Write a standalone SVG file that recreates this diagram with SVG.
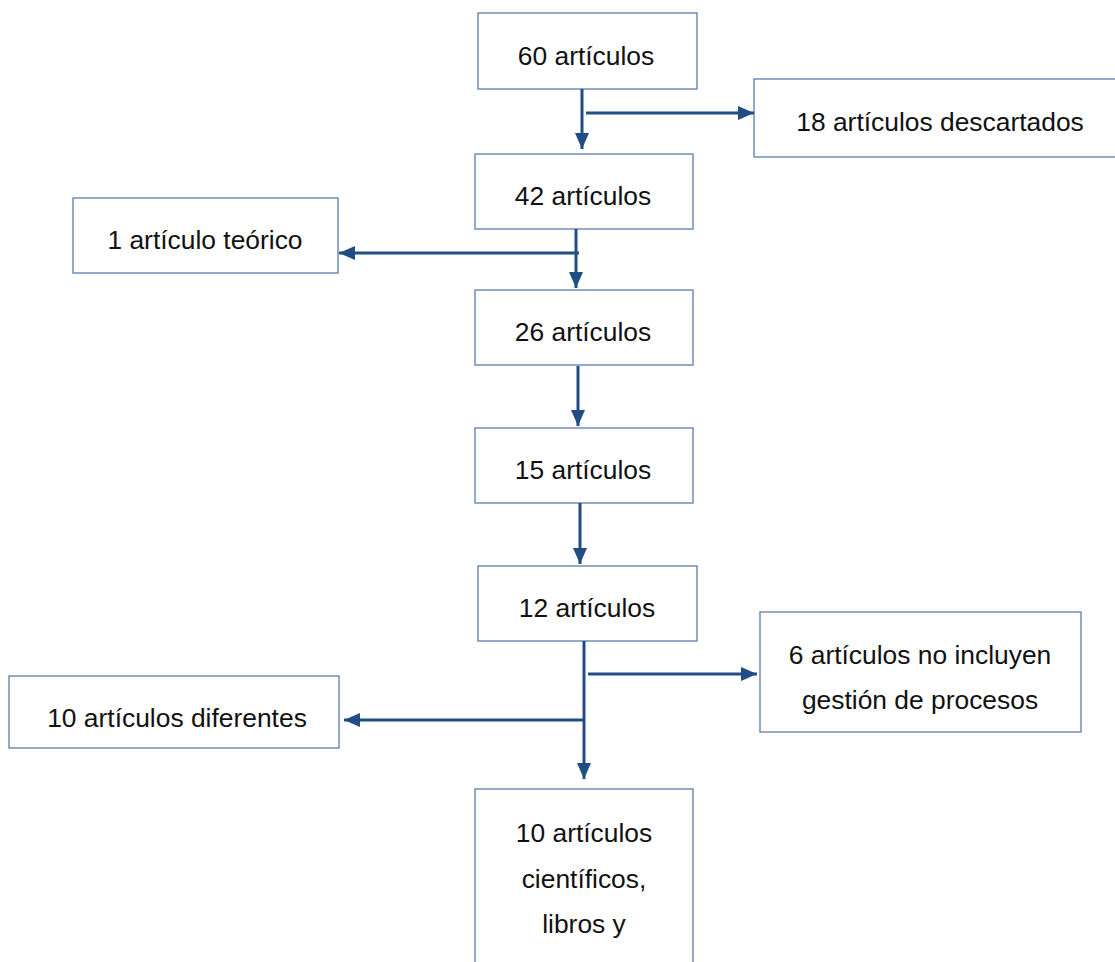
<svg xmlns="http://www.w3.org/2000/svg" width="1115" height="962" viewBox="0 0 1115 962">
<style>
.box{fill:#fff;stroke:#5b7cab;stroke-width:1.3}
.t{font-family:"Liberation Sans",Arial,sans-serif;font-size:26.4px;fill:#111;text-anchor:middle}
.c{stroke:#214d84;stroke-width:3;fill:none}
</style>
<defs>
<marker id="ah" viewBox="0 0 16 14" refX="16" refY="7" markerWidth="16" markerHeight="14" markerUnits="userSpaceOnUse" orient="auto">
<path d="M0,0 L16,7 L0,14 Z" fill="#214d84"/>
</marker>
</defs>
<rect width="1115" height="962" fill="#fff"/>
<g id="n60"><rect class="box" x="478" y="13" width="219" height="76"/><text class="t" x="586" y="65">60 artículos</text></g>
<g id="n18"><rect class="box" x="754" y="79" width="362" height="78"/><text class="t" x="940" y="131">18 artículos descartados</text></g>
<g id="n42"><rect class="box" x="475" y="154" width="218" height="75"/><text class="t" x="583" y="205">42 artículos</text></g>
<g id="n1"><rect class="box" x="73" y="198" width="265" height="75"/><text class="t" x="205" y="249">1 artículo teórico</text></g>
<g id="n26"><rect class="box" x="475" y="290" width="218" height="75"/><text class="t" x="583" y="341">26 artículos</text></g>
<g id="n15"><rect class="box" x="475" y="428" width="218" height="75"/><text class="t" x="583" y="479">15 artículos</text></g>
<g id="n12"><rect class="box" x="478" y="566" width="219" height="75"/><text class="t" x="587" y="617">12 artículos</text></g>
<g id="n6"><rect class="box" x="760" y="612" width="321" height="120"/><text class="t" x="920" y="664">6 artículos no incluyen</text><text class="t" x="920" y="709">gestión de procesos</text></g>
<g id="n10d"><rect class="box" x="9" y="676" width="330" height="72"/><text class="t" x="177" y="727">10 artículos diferentes</text></g>
<g id="n10c"><rect class="box" x="475" y="789" width="218" height="190"/><text class="t" x="584" y="842">10 artículos</text><text class="t" x="584" y="888">científicos,</text><text class="t" x="584" y="933">libros y</text></g>
<g id="connectors">
<line class="c" x1="582" y1="89" x2="582" y2="149" marker-end="url(#ah)"/>
<line class="c" x1="586" y1="113" x2="754" y2="113" marker-end="url(#ah)"/>
<line class="c" x1="576" y1="229" x2="576" y2="288" marker-end="url(#ah)"/>
<line class="c" x1="579" y1="253" x2="339" y2="253" marker-end="url(#ah)"/>
<line class="c" x1="578" y1="366" x2="578" y2="426" marker-end="url(#ah)"/>
<line class="c" x1="580" y1="503" x2="580" y2="564" marker-end="url(#ah)"/>
<line class="c" x1="584" y1="641" x2="584" y2="779" marker-end="url(#ah)"/>
<line class="c" x1="588" y1="674" x2="757" y2="674" marker-end="url(#ah)"/>
<line class="c" x1="584" y1="720" x2="344" y2="720" marker-end="url(#ah)"/>
</g>
</svg>
